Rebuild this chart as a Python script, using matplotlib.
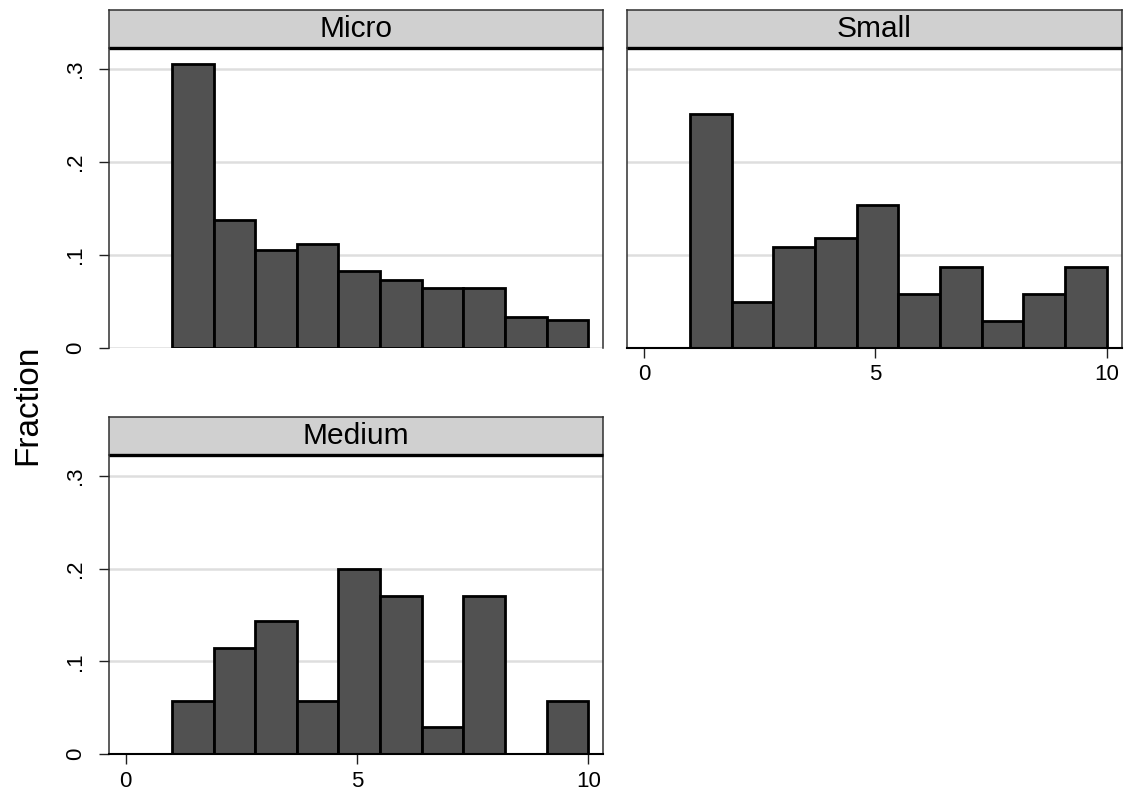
import matplotlib
matplotlib.use("Agg")
import matplotlib.pyplot as plt
import numpy as np

plt.rcParams['font.family'] = ['Liberation Sans', 'DejaVu Sans']

# ---- data ----
panels = ["Micro", "Small", "Medium"]
bin_start = 1.0
bin_width = 0.9
micro = [0.305, 0.137, 0.105, 0.111, 0.082, 0.073, 0.064, 0.064, 0.033, 0.030]
small = [0.252, 0.049, 0.108, 0.118, 0.154, 0.058, 0.087, 0.029, 0.058, 0.087]
medium = [0.057, 0.114, 0.143, 0.057, 0.200, 0.171, 0.029, 0.171, 0.0, 0.057]
x_ticks = [0, 5, 10]
y_ticks = [0, 0.1, 0.2, 0.3]
y_ticklabels = ["0", ".1", ".2", ".3"]
ylabel = "Fraction"

series = [micro, small, medium]

W, H = 1126, 798
fig = plt.figure(figsize=(W / 100, H / 100), dpi=100)
fig.patch.set_facecolor("white")

def fx(px):
    return px / W

def fy(py):
    return 1 - py / H

# axes rectangles in pixel coords: (left, right, top, bottom)
boxes = [
    (108.5, 603, 48, 347.5),
    (626.7, 1121.5, 48, 347.5),
    (108.5, 603, 455, 754),
]
strip_h = 38
has_x = [False, True, True]
has_y = [True, False, True]

for name, vals, (l, r, t, b), hx, hy in zip(panels, series, boxes, has_x, has_y):
    ax = fig.add_axes([fx(l), fy(b), fx(r) - fx(l), fy(t) - fy(b)])
    edges = bin_start + bin_width * np.arange(len(vals))
    ax.bar(edges, vals, width=bin_width, align="edge", color="#515151",
           edgecolor="black", linewidth=2.0, zorder=3)
    ax.set_xlim(-0.37, 10.32)
    ax.set_ylim(0, 0.3226)
    for yv in y_ticks:
        ax.axhline(yv, color="#dedede", linewidth=1.8, zorder=1)
    ax.spines["top"].set_visible(False)
    for s in ("left", "right"):
        ax.spines[s].set_color("#303030")
        ax.spines[s].set_linewidth(1.1)
    if hx:
        ax.spines["bottom"].set_color("black")
        ax.spines["bottom"].set_linewidth(1.5)
        ax.spines["bottom"].set_zorder(4)
        ax.set_xticks(x_ticks)
        ax.set_xticklabels([str(v) for v in x_ticks])
        ax.tick_params(axis="x", direction="out", length=7, width=1.0,
                       color="#202020", labelsize=16, pad=5)
    else:
        ax.spines["bottom"].set_visible(False)
        ax.set_xticks([])
    if hy:
        ax.set_yticks(y_ticks)
        ax.set_yticklabels(y_ticklabels, rotation=90, va="center")
        ax.tick_params(axis="y", direction="out", length=7, width=1.0,
                       color="#202020", labelsize=16, pad=9)
    else:
        ax.set_yticks([])
    ax.set_facecolor("white")

    # strip
    sax = fig.add_axes([fx(l), fy(t), fx(r) - fx(l), fy(t - strip_h) - fy(t)])
    sax.set_facecolor("#d0d0d0")
    sax.set_xticks([])
    sax.set_yticks([])
    for s in ("left", "right", "top"):
        sax.spines[s].set_color("#303030")
        sax.spines[s].set_linewidth(1.1)
    sax.spines["bottom"].set_color("black")
    sax.spines["bottom"].set_linewidth(2.4)
    sax.spines["bottom"].set_capstyle("butt")
    sax.text(0.5, 0.5, name, ha="center", va="center", fontsize=21.5,
             transform=sax.transAxes)

fig.text(fx(28), fy(405), ylabel, rotation=90, ha="center", va="center",
         fontsize=24)

fig.savefig("out.png", dpi=100, facecolor="white")
